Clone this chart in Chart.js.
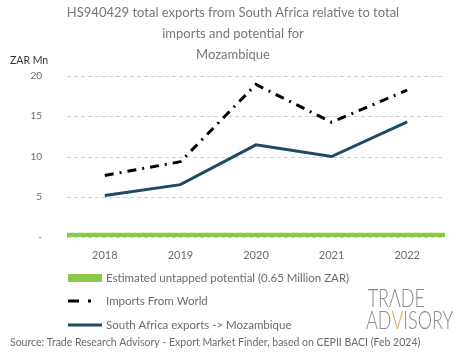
<!DOCTYPE html>
<html>
<head>
<meta charset="utf-8">
<script src="https://cdn.jsdelivr.net/npm/chart.js@4.4.1/dist/chart.umd.min.js"></script>
<style>
html,body{margin:0;padding:0;background:#fff;}
#wrap{width:465px;height:359px;position:relative;}
</style>
</head>
<body>
<div id="wrap"><canvas id="c" width="465" height="359"></canvas></div>
<script>
const categories = ['2018','2019','2020','2021','2022'];
const saExports = [5.15, 6.5, 11.45, 10.0, 14.3];
const importsWorld = [7.65, 9.35, 18.95, 14.25, 18.25];
const untapped = [0.5, 0.5, 0.5, 0.5, 0.5];
const yTicks = [0, 5, 10, 15, 20];
const titleLines = ['HS940429 total exports from South Africa relative to total', 'imports and potential for', 'Mozambique'];
const legendLabels = ['Estimated untapped potential (0.65 Million ZAR)', 'Imports From World', 'South Africa exports -> Mozambique'];
const sourceText = 'Source: Trade Research Advisory - Export Market Finder, based on CEPII BACI (Feb 2024)';
const yAxisLabel = 'ZAR Mn';

const FONT = 'Lato, "Open Sans", sans-serif';
const GRAY = '#6b6b6b';
const GREEN = '#8cc84b';
const TEAL = '#1d4b61';

const dashedGrid = {
  id: 'dashedGrid',
  beforeDatasetsDraw(chart) {
    const ctx = chart.ctx, y = chart.scales.y, a = chart.chartArea;
    ctx.save();
    ctx.strokeStyle = '#cfcfcf';
    ctx.lineWidth = 1;
    ctx.setLineDash([4, 3]);
    yTicks.forEach(v => {
      const py = Math.round(y.getPixelForValue(v)) + 0.5;
      ctx.beginPath(); ctx.moveTo(a.left, py); ctx.lineTo(a.right, py); ctx.stroke();
    });
    ctx.restore();
  }
};

const extras = {
  id: 'extras',
  afterDraw(chart) {
    const ctx = chart.ctx;
    ctx.save();
    ctx.fillStyle = '#777';
    ctx.font = '13px ' + FONT;
    ctx.textAlign = 'center';
    ctx.textBaseline = 'middle';
    const ty = [13, 34, 55];
    titleLines.forEach((t, i) => ctx.fillText(t, 233, ty[i]));
    ctx.fillStyle = '#333';
    ctx.font = '10.5px ' + FONT;
    ctx.textAlign = 'left';
    ctx.fillText(yAxisLabel, 10, 61);
    const ds = chart.data.datasets;
    const rows = [278, 301, 325];
    ctx.font = '11.5px ' + FONT;
    ctx.fillStyle = ds[0].backgroundColor;
    ctx.fillRect(68, rows[0] - 4, 34, 8);
    ctx.strokeStyle = ds[1].borderColor;
    ctx.lineWidth = 3;
    ctx.beginPath(); ctx.moveTo(68, rows[1]); ctx.lineTo(79, rows[1]); ctx.stroke();
    ctx.beginPath(); ctx.moveTo(88, rows[1]); ctx.lineTo(91, rows[1]); ctx.stroke();
    ctx.strokeStyle = ds[2].borderColor;
    ctx.beginPath(); ctx.moveTo(68, rows[2]); ctx.lineTo(102, rows[2]); ctx.stroke();
    ctx.fillStyle = GRAY;
    legendLabels.forEach((t, i) => ctx.fillText(t, 106, rows[i]));
    ctx.font = '10.5px ' + FONT;
    ctx.fillText(sourceText, 10, 343);
    ctx.font = '300 22px ' + FONT;
    ctx.fillStyle = '#8a8a8a';
    ctx.save();
    ctx.translate(366, 299);
    ctx.scale(0.82, 1.12);
    ctx.textBaseline = 'middle';
    ctx.fillText('TR\u039BDE', 2, 0);
    ctx.fillText('AD', 0, 20);
    let w2 = ctx.measureText('AD').width;
    ctx.fillStyle = '#e0a050';
    ctx.fillText('V', w2, 20);
    w2 += ctx.measureText('V').width;
    ctx.fillStyle = '#8a8a8a';
    ctx.fillText('ISORY', w2, 20);
    ctx.restore();
    ctx.restore();
  }
};

new Chart(document.getElementById('c'), {
  data: {
    labels: categories,
    datasets: [
      { type: 'bar', label: legendLabels[0], data: untapped, backgroundColor: GREEN,
        barPercentage: 1, categoryPercentage: 1, order: 3 },
      { type: 'line', label: legendLabels[1], data: importsWorld, borderColor: '#000',
        borderWidth: 3, borderDash: [9, 6, 2, 6], pointRadius: 0, tension: 0, fill: false, order: 1 },
      { type: 'line', label: legendLabels[2], data: saExports, borderColor: TEAL,
        borderWidth: 3, pointRadius: 0, tension: 0, fill: false, order: 2 }
    ]
  },
  options: {
    responsive: false,
    animation: false,
    devicePixelRatio: 1,
    layout: { padding: { top: 76, left: 0, right: 20, bottom: 95 } },
    plugins: { legend: { display: false }, title: { display: false }, tooltip: { enabled: false } },
    scales: {
      x: {
        offset: true,
        grid: { display: false },
        border: { display: false },
        ticks: { color: GRAY, font: { family: FONT, size: 11 }, padding: 4 },
        afterFit(s) { s.height = 27; }
      },
      y: {
        min: 0, max: 20,
        afterBuildTicks(s) { s.ticks = yTicks.map(v => ({ value: v })); },
        grid: { display: false },
        border: { display: false },
        ticks: { color: GRAY, font: { family: FONT, size: 10 }, padding: 17,
          callback: v => v === 0 ? '-' : v },
        afterFit(s) { s.width = 67; }
      }
    }
  },
  plugins: [dashedGrid, extras]
});
</script>
</body>
</html>
